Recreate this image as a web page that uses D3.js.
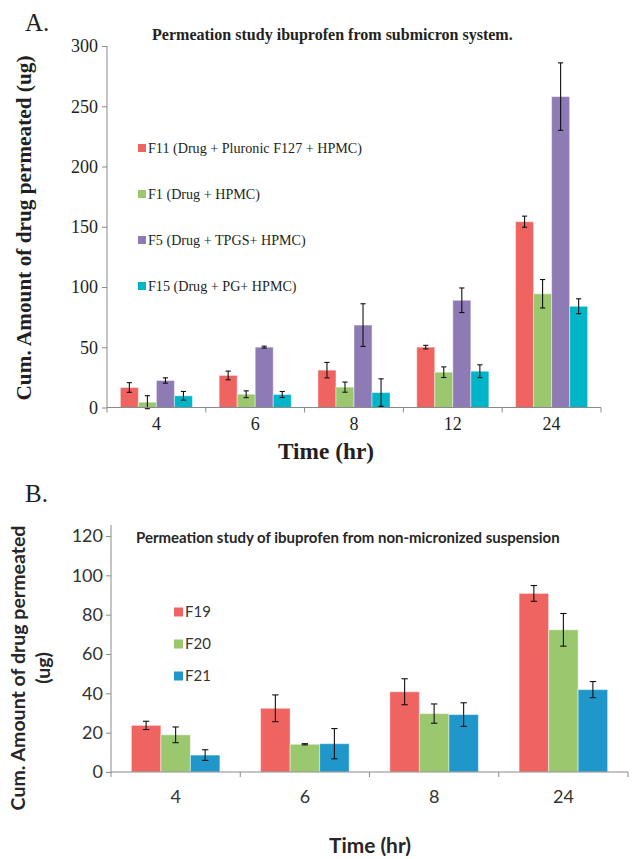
<!DOCTYPE html>
<html>
<head>
<meta charset="utf-8">
<script src="https://cdn.jsdelivr.net/npm/d3@7"></script>
<style>
  html, body { margin: 0; padding: 0; background: #fff; }
  svg { display: block; }
  .serif text { font-family: 'Liberation Serif', 'Times New Roman', serif; }
  .sans text { font-family: Lato, 'Open Sans', sans-serif; }
</style>
</head>
<body>
<svg id="chart" width="643" height="859"></svg>
<script>
// ---------------- DATA: Panel A ----------------
const catsA = ["4", "6", "8", "12", "24"];
const seriesA = ["F11 (Drug + Pluronic F127 + HPMC)", "F1 (Drug + HPMC)", "F5 (Drug + TPGS+ HPMC)", "F15 (Drug + PG+ HPMC)"];
const F11 = [16.6, 26.6, 31.0, 50.1, 154.2];
const F11_err = [4.0, 3.6, 6.4, 1.5, 4.6];
const F1 = [4.4, 11.0, 16.9, 29.3, 94.4];
const F1_err = [5.4, 2.8, 4.2, 4.4, 11.8];
const F5 = [22.4, 50.1, 68.4, 89.0, 258.0];
const F5_err = [2.2, 0.8, 17.7, 10.2, 28.0];
const F15 = [9.7, 10.8, 12.4, 30.1, 84.0];
const F15_err = [3.6, 2.5, 11.4, 5.3, 6.2];
const ticksA = [0, 50, 100, 150, 200, 250, 300];
const colorsA = ["#EF6461", "#9BC86E", "#8E7AB5", "#00B5C7"];

// ---------------- DATA: Panel B ----------------
const catsB = ["4", "6", "8", "24"];
const seriesB = ["F19", "F20", "F21"];
const F19 = [23.7, 32.4, 40.8, 90.8];
const F19_err = [2.1, 6.8, 6.6, 4.0];
const F20 = [18.9, 14.1, 29.7, 72.3];
const F20_err = [4.0, 0.3, 4.9, 8.3];
const F21 = [8.6, 14.4, 29.2, 41.9];
const F21_err = [2.7, 7.7, 6.0, 4.1];
const ticksB = [0, 20, 40, 60, 80, 100, 120];
const colorsB = ["#EF6461", "#9BC86E", "#2097CB"];

const svg = d3.select("#chart");
const SERIF = "'Liberation Serif', 'Times New Roman', serif";
const SANS = "Lato, 'Open Sans', sans-serif";

function fitWidth(sel, target) {
  const n = sel.node();
  const fs = parseFloat(sel.style("font-size"));
  const w = n.getComputedTextLength();
  if (w > 0) sel.style("font-size", (fs * target / w).toFixed(2) + "px");
  return sel;
}
function txt(parent, font, size, weight, fill) {
  return parent.append("text").style("font-family", font).style("font-size", size + "px")
    .style("font-weight", weight).attr("fill", fill);
}

function drawPanel(opt) {
  const g = svg.append("g").attr("class", opt.cls);
  const y = d3.scaleLinear().domain(opt.yDomain).range(opt.yRange);
  const x0 = d3.scaleBand().domain(opt.cats).range(opt.xRange)
    .paddingInner(opt.pad).paddingOuter(opt.pad / 2);
  const x1 = d3.scaleBand().domain(d3.range(opt.series.length)).range([0, x0.bandwidth()]);

  // bars
  opt.values.forEach((vals, si) => {
    g.append("g").selectAll("rect").data(vals).join("rect")
      .attr("x", (d, i) => x0(opt.cats[i]) + x1(si))
      .attr("y", d => y(d))
      .attr("width", x1.bandwidth())
      .attr("height", d => y(0) - y(d))
      .attr("fill", opt.colors[si])
      .attr("stroke", "#ffffff").attr("stroke-opacity", 0.45).attr("stroke-width", 1);
  });

  // error bars
  opt.values.forEach((vals, si) => {
    const eg = g.append("g").attr("stroke", "#111").attr("stroke-width", 1.1);
    vals.forEach((v, i) => {
      const e = opt.errors[si][i];
      const cx = x0(opt.cats[i]) + x1(si) + x1.bandwidth() / 2;
      const lo = Math.max(v - e, opt.yDomain[0] - 1);
      eg.append("line").attr("x1", cx).attr("x2", cx).attr("y1", y(v + e)).attr("y2", y(lo));
      eg.append("line").attr("x1", cx - opt.cap).attr("x2", cx + opt.cap).attr("y1", y(v + e)).attr("y2", y(v + e));
      eg.append("line").attr("x1", cx - opt.cap).attr("x2", cx + opt.cap).attr("y1", y(lo)).attr("y2", y(lo));
    });
  });

  // y axis
  const ya = g.append("g").attr("transform", `translate(${opt.xRange[0]},0)`)
    .call(d3.axisLeft(y).tickValues(opt.ticks).tickSize(5).tickSizeOuter(0).tickPadding(opt.tickPad));
  ya.attr("font-family", opt.font).attr("font-size", opt.tickFont);
  ya.select(".domain").attr("stroke", "#8a8a8a").attr("d", `M0,${y(0)}V${opt.axisTop}`);
  ya.selectAll(".tick line").attr("stroke", "#8a8a8a");
  ya.selectAll(".tick text").style("font-family", opt.font).style("font-size", opt.tickFont + "px").attr("fill", opt.tickColor);

  // x axis
  const xa = g.append("g").attr("transform", `translate(0,${y(0)})`)
    .call(d3.axisBottom(x0).tickSize(0).tickPadding(opt.xLabelPad).tickSizeOuter(0));
  xa.attr("font-family", opt.font).attr("font-size", opt.tickFont);
  xa.select(".domain").attr("stroke", "#8a8a8a").attr("d", `M${opt.xRange[0]},0H${opt.xRange[1]}`);
  xa.selectAll(".tick text").style("font-family", opt.font).style("font-size", opt.tickFont + "px").attr("fill", opt.tickColor);
  const bounds = d3.range(opt.cats.length + 1).map(i => opt.xRange[0] + i * x0.step());
  xa.selectAll("line.bound").data(bounds).join("line").attr("class", "bound")
    .attr("x1", d => d).attr("x2", d => d).attr("y1", 0).attr("y2", 5).attr("stroke", "#8a8a8a");

  // legend
  const texts = [];
  opt.series.forEach((s, si) => {
    const ly = opt.legendY[si];
    g.append("rect").attr("x", opt.legendX).attr("y", ly - opt.legendSq / 2)
      .attr("width", opt.legendSq).attr("height", opt.legendSq).attr("fill", opt.colors[si]);
    texts.push(txt(g, opt.font, opt.legendFont, "normal", opt.legendColor)
      .attr("x", opt.legendX + opt.legendSq + 2).attr("y", ly).attr("dy", "0.35em").text(s));
  });
  if (opt.legendFitW) {
    fitWidth(texts[0], opt.legendFitW);
    const fs = texts[0].style("font-size");
    texts.forEach(t => t.style("font-size", fs));
  }
  return g;
}

// ---------------- Panel A ----------------
drawPanel({
  cls: "serif",
  cats: catsA, series: seriesA, colors: colorsA,
  values: [F11, F1, F5, F15], errors: [F11_err, F1_err, F5_err, F15_err],
  yDomain: [0, 300], yRange: [407.5, 46], ticks: ticksA, axisTop: 46,
  xRange: [107, 601], pad: 0.27, cap: 2.6,
  font: SERIF, tickFont: 18, tickColor: "#231f20", tickPad: 4, xLabelPad: 10,
  legendX: 138, legendSq: 8, legendY: [148, 194, 240, 286], legendFont: 13.5, legendFitW: 214, legendColor: "#231f20"
});

txt(svg, SERIF, 25, "normal", "#231f20").attr("x", 25).attr("y", 31).text("A.");
fitWidth(txt(svg, SERIF, 13, "bold", "#231f20").attr("x", 152).attr("y", 40)
  .text("Permeation study ibuprofen from submicron system."), 361);
fitWidth(txt(svg, SERIF, 20, "bold", "#231f20").attr("transform", "translate(31,228) rotate(-90)")
  .attr("text-anchor", "middle").text("Cum. Amount of drug permeated (ug)"), 345);
fitWidth(txt(svg, SERIF, 21, "bold", "#231f20").attr("x", 326).attr("y", 459).attr("text-anchor", "middle")
  .text("Time (hr)"), 96);

// ---------------- Panel B ----------------
drawPanel({
  cls: "sans",
  cats: catsB, series: seriesB, colors: colorsB,
  values: [F19, F20, F21], errors: [F19_err, F20_err, F21_err],
  yDomain: [0, 120], yRange: [772, 536], ticks: ticksB, axisTop: 525,
  xRange: [111, 628], pad: 0.315, cap: 3.2,
  font: SANS, tickFont: 18, tickColor: "#333333", tickPad: 3, xLabelPad: 18,
  legendX: 174, legendSq: 9, legendY: [612, 644, 676], legendFont: 15, legendColor: "#333333"
});

txt(svg, SERIF, 25, "normal", "#231f20").attr("x", 25).attr("y", 502).text("B.");
fitWidth(txt(svg, SANS, 14, "bold", "#262626").attr("x", 136).attr("y", 543)
  .text("Permeation study of ibuprofen from non-micronized suspension"), 424);
const yTitleB = txt(svg, SANS, 19, "bold", "#262626").attr("transform", "translate(25,668) rotate(-90)")
  .attr("text-anchor", "middle").text("Cum. Amount of drug permeated");
fitWidth(yTitleB, 285);
txt(svg, SANS, parseFloat(yTitleB.style("font-size")), "bold", "#262626")
  .attr("transform", "translate(50,668) rotate(-90)").attr("text-anchor", "middle").text("(ug)");
fitWidth(txt(svg, SANS, 19, "bold", "#262626").attr("x", 370).attr("y", 853).attr("text-anchor", "middle")
  .text("Time (hr)"), 82);
</script>
</body>
</html>
